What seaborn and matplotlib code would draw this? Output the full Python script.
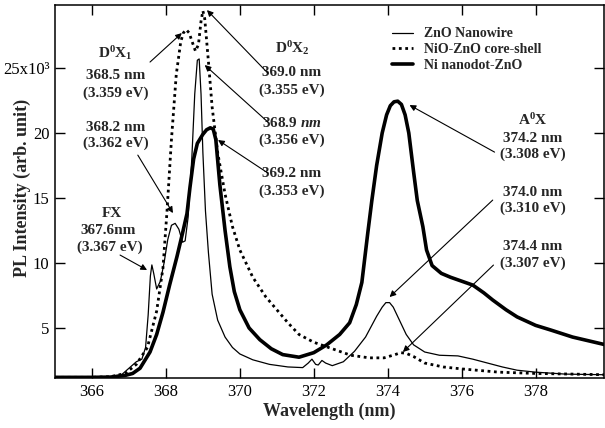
import matplotlib
matplotlib.use("Agg")
import matplotlib.pyplot as plt
import seaborn as sns

# values (intensity in units of 10^3)
wl_nanowire = [365.0, 366.0, 366.5, 366.8, 367.0, 367.2, 367.35, 367.45, 367.52, 367.58,
               367.62, 367.67, 367.75, 367.85, 367.95, 368.05, 368.15, 368.25, 368.35, 368.45,
               368.52, 368.6, 368.7, 368.78, 368.85, 368.9, 368.95, 369.0, 369.07, 369.15,
               369.25, 369.4, 369.6, 369.8, 370.0, 370.35, 370.8, 371.3, 371.7, 371.85,
               371.95, 372.05, 372.12, 372.22, 372.32, 372.5, 372.8, 373.1, 373.4, 373.7,
               373.85, 373.95, 374.05, 374.15, 374.3, 374.5, 374.7, 375.0, 375.4, 375.9,
               376.3, 376.7, 377.1, 377.5, 378.0, 378.8, 379.9]
pl_nanowire = [1.2, 1.2, 1.25, 1.4, 1.9, 2.4, 2.6, 3.5, 6.0, 9.0,
               9.85, 9.2, 8.0, 8.6, 10.0, 11.8, 12.9, 13.05, 12.6, 11.6,
               11.7, 13.5, 18.0, 23.0, 25.6, 25.7, 23.0, 18.5, 14.0, 10.8,
               7.6, 5.6, 4.3, 3.5, 3.0, 2.55, 2.2, 2.0, 1.95, 2.3,
               2.6, 2.2, 2.15, 2.5, 2.3, 2.1, 2.4, 3.2, 4.3, 5.9,
               6.6, 6.95, 6.95, 6.6, 5.7, 4.5, 3.7, 3.15, 2.9, 2.85,
               2.6, 2.3, 2.0, 1.75, 1.6, 1.45, 1.4]

wl_coreshell = [365.0, 366.0, 366.5, 366.9, 367.2, 367.5, 367.75, 367.92, 368.03, 368.15,
                368.28, 368.4, 368.47, 368.55, 368.63, 368.7, 368.8, 368.88, 368.95, 369.0,
                369.05, 369.15, 369.25, 369.4, 369.6, 369.8, 370.0, 370.35, 370.7, 371.0,
                371.3, 371.6, 372.0, 372.5, 373.0, 373.5, 373.9, 374.2, 374.35, 374.5,
                374.7, 375.0, 375.5, 376.0, 377.0, 378.0, 379.0, 379.9]
pl_coreshell = [1.2, 1.2, 1.25, 1.5, 2.2, 3.5, 6.3, 9.6, 14.0, 19.5,
                24.5, 27.0, 27.7, 27.95, 27.7, 27.1, 26.3, 26.8, 28.6, 29.4,
                28.8, 25.5, 22.0, 18.5, 15.3, 12.8, 11.0, 8.9, 7.4, 6.4,
                5.4, 4.5, 3.9, 3.4, 2.9, 2.7, 2.7, 2.95, 3.1, 3.05,
                2.8, 2.3, 2.0, 1.85, 1.6, 1.5, 1.45, 1.4]

wl_nanodot = [365.0, 366.0, 366.5, 366.9, 367.1, 367.3, 367.57, 367.75, 367.92, 368.1,
              368.3, 368.45, 368.57, 368.65, 368.75, 368.85, 369.0, 369.1, 369.2, 369.28,
              369.35, 369.46, 369.6, 369.73, 369.85, 370.0, 370.25, 370.54, 370.85, 371.16,
              371.6, 372.0, 372.35, 372.7, 372.97, 373.15, 373.3, 373.46, 373.57, 373.7,
              373.85, 373.97, 374.07, 374.17, 374.27, 374.37, 374.47, 374.57, 374.7, 374.8,
              374.95, 375.05, 375.2, 375.45, 375.7, 376.0, 376.3, 376.6, 376.84, 377.2,
              377.5, 378.0, 378.4, 379.0, 379.9]
pl_nanodot = [1.2, 1.2, 1.22, 1.35, 1.5, 1.9, 3.15, 4.5, 6.2, 8.3,
              10.5, 12.3, 13.8, 15.8, 18.0, 19.2, 19.9, 20.25, 20.4, 20.3,
              19.5, 16.0, 12.5, 9.7, 7.8, 6.4, 5.0, 4.1, 3.4, 2.95,
              2.75, 3.1, 3.7, 4.5, 5.4, 6.8, 8.5, 12.3, 14.8, 17.5,
              20.0, 21.4, 22.1, 22.4, 22.45, 22.2, 21.4, 20.0, 17.0, 14.8,
              12.8, 11.0, 9.8, 9.2, 8.9, 8.6, 8.3, 7.7, 7.15, 6.4,
              5.85, 5.2, 4.85, 4.3, 3.7]

series_labels = ["ZnO Nanowire", "NiO-ZnO core-shell", "Ni nanodot-ZnO"]
x_ticks = [366, 368, 370, 372, 374, 376, 378]
y_ticks = [5, 10, 15, 20, 25]
y_tick_labels = ["5", "10", "15", "20", "25x10³"]

# annotation text: (x, y, text)
notes = [
    (366.62, 26.15, r"D$^0$X$_\mathit{1}$"),
    (366.65, 24.46, "368.5 nm"),
    (366.65, 23.07, "(3.359 eV)"),
    (366.65, 20.46, "368.2 nm"),
    (366.65, 19.23, "(3.362 eV)"),
    (366.54, 13.84, "FX"),
    (366.43, 12.53, "367.6nm"),
    (366.49, 11.23, "(3.367 eV)"),
    (371.41, 26.53, r"D$^0$X$_2$"),
    (371.41, 24.69, "369.0 nm"),
    (371.41, 23.30, "(3.355 eV)"),
    (371.41, 20.77, r"368.9 $\mathit{nm}$"),
    (371.41, 19.46, "(3.356 eV)"),
    (371.41, 16.92, "369.2 nm"),
    (371.41, 15.53, "(3.353 eV)"),
    (377.92, 21.00, r"A$^0$X"),
    (377.92, 19.60, "374.2 nm"),
    (377.92, 18.38, "(3.308 eV)"),
    (377.92, 15.46, "374.0 nm"),
    (377.92, 14.23, "(3.310 eV)"),
    (377.92, 11.30, "374.4 nm"),
    (377.92, 10.00, "(3.307 eV)"),
]

# arrows: (tail x, tail y, head x, head y)
arrows = [
    (367.57, 25.46, 368.43, 27.69),
    (367.24, 18.30, 368.19, 13.84),
    (366.76, 10.61, 367.49, 9.46),
    (370.76, 24.60, 369.11, 29.46),
    (370.76, 20.84, 369.05, 25.23),
    (370.76, 16.92, 369.41, 19.46),
    (376.89, 18.53, 374.59, 22.15),
    (376.84, 14.84, 374.05, 7.38),
    (376.86, 9.84, 374.41, 3.15),
]

sns.set_style("ticks")
plt.rcParams["font.family"] = ["Liberation Serif", "DejaVu Serif"]
plt.rcParams["mathtext.fontset"] = "custom"
plt.rcParams["mathtext.rm"] = "Liberation Serif:bold"
plt.rcParams["mathtext.bf"] = "Liberation Serif:bold"
plt.rcParams["mathtext.it"] = "Liberation Serif:bold:italic"

fig = plt.figure(figsize=(6.05, 4.28), dpi=100)
ax = fig.add_axes([55 / 605, 50 / 428, 549 / 605, 373 / 428])

sns.lineplot(x=wl_nanowire, y=pl_nanowire, ax=ax, color="black", lw=0.9,
             label=series_labels[0], sort=False)
sns.lineplot(x=wl_coreshell, y=pl_coreshell, ax=ax, color="black", lw=2.0,
             ls=(0, (1, 1.3)), label=series_labels[1], sort=False)
sns.lineplot(x=wl_nanodot, y=pl_nanodot, ax=ax, color="black", lw=2.6,
             label=series_labels[2], sort=False)

ax.set_xlim(365, 379.85)
ax.set_ylim(1.15, 29.85)
ax.set_xticks(x_ticks)
ax.set_yticks(y_ticks)
ax.set_yticklabels(y_tick_labels)
ax.tick_params(direction="in", length=7, width=1, top=True, right=True,
               labelsize=12, pad=4, color="black", labelcolor="black")
for s in ax.spines.values():
    s.set_linewidth(1.1)
    s.set_color("black")

ax.set_xlabel("Wavelength (nm)", fontsize=13, fontweight="bold", labelpad=2)
ax.set_ylabel("PL Intensity (arb. unit)", fontsize=13, fontweight="bold")
ax.yaxis.set_label_coords(-0.044, 0.51)

for x, y, t in notes:
    ax.text(x, y, t, ha="center", va="center", fontsize=11, fontweight="bold")

for x0, y0, x1, y1 in arrows:
    ax.annotate("", xy=(x1, y1), xytext=(x0, y0),
                arrowprops=dict(arrowstyle="-|>", color="black", lw=0.8,
                                mutation_scale=9, shrinkA=0, shrinkB=0))

ax.legend(loc="upper left", bbox_to_anchor=(0.614, 0.94), frameon=False,
          borderaxespad=0, borderpad=0, handlelength=1.5, handletextpad=0.8,
          labelspacing=0.2, prop={"size": 10, "weight": "bold"})

fig.savefig("out.png", dpi=100)
